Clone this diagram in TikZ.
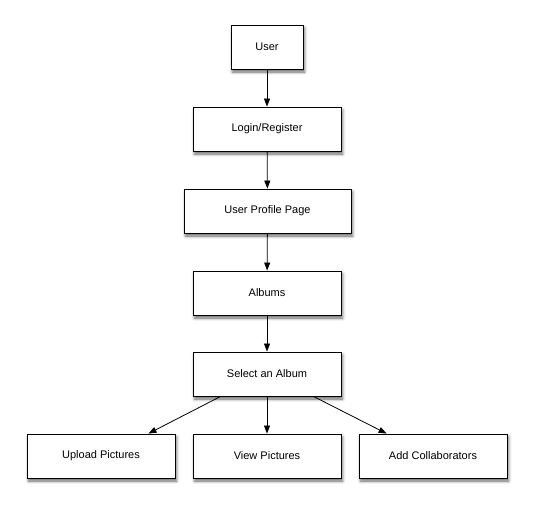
\documentclass[tikz,border=0pt]{standalone}
\usepackage{fontspec}
\setmainfont{Liberation Sans}
\usetikzlibrary{arrows.meta,shadows.blur}

\tikzset{
  stepbox/.style={draw=black, fill=white, line width=0.9pt, minimum height=44pt,
    font=\fontsize{11}{13}\selectfont,
    blur shadow={shadow xshift=1.5pt, shadow yshift=-3pt, shadow blur radius=3pt, shadow opacity=60}},
  flow/.style={-{Triangle[length=8pt,width=6pt]}, line width=0.8pt}
}

\begin{document}
\begin{tikzpicture}[x=1pt, y=-1pt]
\useasboundingbox (0,0) rectangle (534,506);

\node[stepbox, minimum width=72pt] (user) at (267,47) {User};
\node[stepbox, minimum width=148pt] (login) at (267,129) {Login/Register};
\node[stepbox, minimum width=167pt] (profile) at (267.5,211) {User Profile Page};
\node[stepbox, minimum width=148pt] (albums) at (267,293) {Albums};
\node[stepbox, minimum width=148pt] (select) at (267,374) {Select an Album};

\node[stepbox, minimum width=148pt] (upload) at (101,456) {Upload Pictures};
\node[stepbox, minimum width=148pt] (view) at (267,456) {View Pictures};
\node[stepbox, minimum width=148pt] (collab) at (433,456) {Add Collaborators};

\draw[flow] (user) -- (login);
\draw[flow] (login) -- (profile);
\draw[flow] (profile) -- (albums);
\draw[flow] (albums) -- (select);

\draw[flow] ([xshift=28pt]select.south west) -- ([xshift=-27pt]upload.north east);
\draw[flow] (select) -- (view);
\draw[flow] ([xshift=-28pt]select.south east) -- ([xshift=28pt]collab.north west);
\end{tikzpicture}
\end{document}
